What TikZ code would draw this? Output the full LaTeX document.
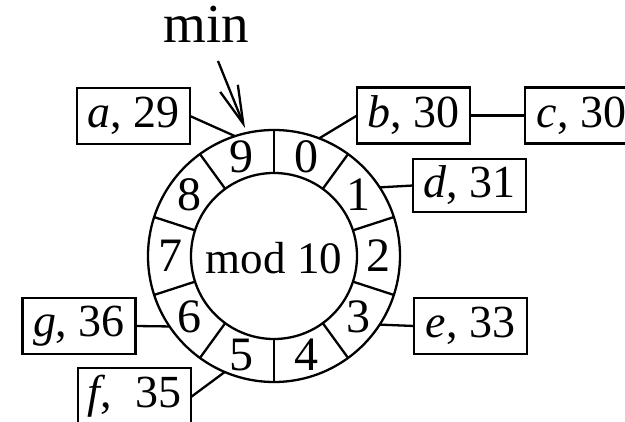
\documentclass[tikz,border=0pt]{standalone}
\usepackage{fontspec}
\setmainfont{Liberation Serif}
\usetikzlibrary{arrows.meta,calc}
\tikzset{
  every picture/.style={line width=2.3pt},
  lbox/.style={draw, inner sep=0pt, outer sep=0pt, minimum width=113pt, minimum height=56pt, font=\fontsize{46}{50}\selectfont},
  digit/.style={inner sep=0pt, font=\fontsize{48}{50}\selectfont},
  link/.style={line width=2.3pt},
}
\begin{document}
\begin{tikzpicture}[x=1pt,y=-1pt]
\useasboundingbox (0,0) rectangle (625,422);
\clip (0,0) rectangle (625,422);
\coordinate (C) at (274,256);
\node[circle, draw, inner sep=0pt, outer sep=0pt, minimum size=252pt] (outer) at (C) {};
\node[circle, draw, inner sep=0pt, outer sep=0pt, minimum size=166pt] (inner) at (C) {};
\foreach \k in {0,...,9} {
  \draw ($(C)+({90-36*\k}:83pt)$) -- ($(C)+({90-36*\k}:126pt)$);
}
\foreach \k in {0,...,9} {
  \node[digit] (d\k) at ($(C)+({72-36*\k}:104pt)$) {\k};
}
\node[inner sep=0pt, font=\fontsize{45}{50}\selectfont] (mod) at (274,258) {mod 10};
% label boxes
\node[lbox] (a) at (133.5,116) {\textit{a}, 29};
\node[lbox] (b) at (413.5,115.5) {\textit{b}, 30};
\node[lbox] (c) at (581.5,115.5) {\textit{c}, 30};
\node[lbox, minimum height=53pt] (dd) at (469.5,185.5) {\textit{d}, 31};
\node[lbox] (e) at (470.5,326) {\textit{e}, 33};
\node[lbox] (g) at (79,326) {\textit{g}, 36};
\node[lbox] (f) at (134.5,396) {\textit{f},\ \ 35};
% connectors
\draw[link] (a.east) -- (outer.108);
\draw[link] (b.west) -- (outer.69);
\draw[link] (b.east) -- (c.west);
\draw[link] (dd.west) -- (outer.33.7);
\draw[link] (e.west) -- (outer.-33.7);
\draw[link] (g.east) -- (outer.-146.3);
\draw[link] ([yshift=-1pt]f.east) -- (outer.-113.5);
% min pointer
\node[anchor=base, inner sep=0pt, font=\fontsize{55}{58}\selectfont] (min) at (206,43) {min};
\coordinate (minfrom) at (218,61);
\coordinate (mintip) at (245,128);
\draw[link, -{Straight Barb[length=38pt, width=19pt, line width=2.3pt]}] (minfrom) -- (mintip);
\end{tikzpicture}
\end{document}
